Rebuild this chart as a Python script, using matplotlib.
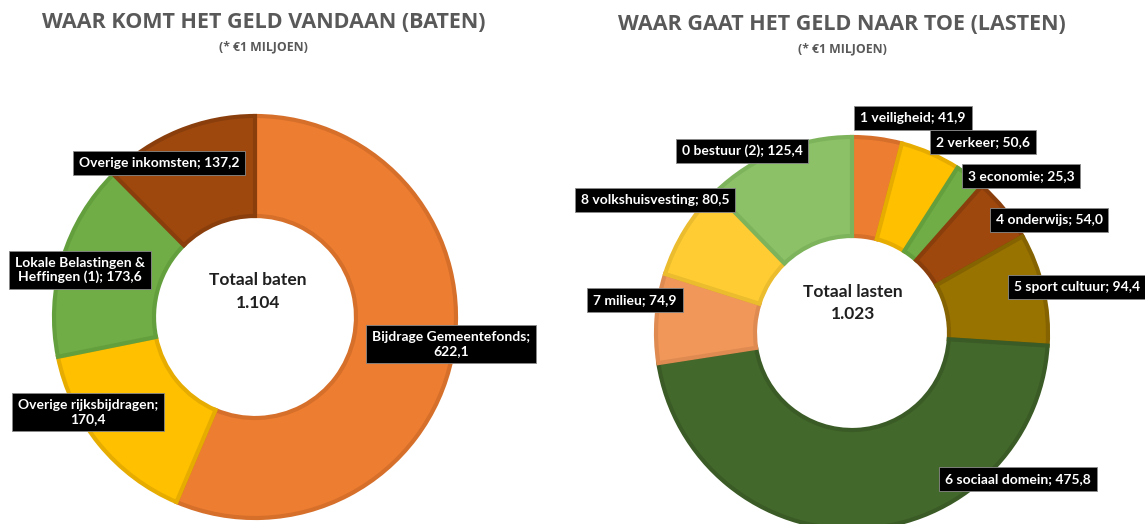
import matplotlib
matplotlib.use("Agg")
import matplotlib.pyplot as plt

# baten (income), clockwise from the top
baten_labels = ["Bijdrage Gemeentefonds;\n622,1", "Overige rijksbijdragen;\n170,4",
                "Lokale Belastingen &\nHeffingen (1); 173,6", "Overige inkomsten; 137,2"]
baten_values = [622.1, 170.4, 173.6, 137.2]
baten_totaal = "1.104"

# lasten (expenses), clockwise from the top
lasten_labels = ["1 veiligheid; 41,9", "2 verkeer; 50,6", "3 economie; 25,3",
                 "4 onderwijs; 54,0", "5 sport cultuur; 94,4", "6 sociaal domein; 475,8",
                 "7 milieu; 74,9", "8 volkshuisvesting; 80,5", "0 bestuur (2); 125,4"]
lasten_values = [41.9, 50.6, 25.3, 54.0, 94.4, 475.8, 74.9, 80.5, 125.4]
lasten_totaal = "1.023"

baten_colors = ["#ED7D31", "#FFC000", "#70AD47", "#9E480E"]
baten_edges = ["#D66F2A", "#E6AC00", "#63A03D", "#8A3E0C"]
lasten_colors = ["#ED7D31", "#FFC000", "#70AD47", "#9E480E", "#997300",
                 "#43682B", "#F1975A", "#FFCD33", "#8CC168"]
lasten_edges = ["#D66F2A", "#E6AC00", "#63A03D", "#8A3E0C", "#846300",
                "#3A5B25", "#DE8A50", "#EBBC2D", "#7DB35B"]

# label box centres in pixels (layout)
baten_label_pos = [(451, 344), (88, 412), (80, 270), (159, 163)]
lasten_label_pos = [(913, 118), (983, 142), (1021, 176), (1049, 220), (1077, 287),
                    (1018, 479), (635, 300), (655, 200), (742, 151)]

W, H = 1145, 524
fig = plt.figure(figsize=(W / 100, H / 100), dpi=100)
ax = fig.add_axes([0, 0, 1, 1])


def donut(values, colors, edges, center, R, r):
    wedges, _ = ax.pie(values, colors=colors, startangle=90, counterclock=False,
                       center=center, radius=R, frame=True,
                       wedgeprops=dict(width=R - r, linewidth=3.0))
    for w, e in zip(wedges, edges):
        w.set_edgecolor(e)
    return wedges


donut(baten_values, baten_colors, baten_edges, (255, H - 317), 201, 101)
donut(lasten_values, lasten_colors, lasten_edges, (852, H - 333), 196, 97)
ax.set_xlim(0, W)
ax.set_ylim(0, H)
ax.set_aspect("equal")
ax.axis("off")

lab_font = dict(family="Lato", weight="bold", size=10, color="white")
box = dict(boxstyle="square,pad=0.42", fc="black", ec="#8a8a8a", lw=0.6)
for txt, (x, y) in zip(baten_labels, baten_label_pos):
    ax.text(x, H - y, txt, ha="center", va="center", ma="center", bbox=box,
            linespacing=1.2, **lab_font)
for txt, (x, y) in zip(lasten_labels, lasten_label_pos):
    ax.text(x, H - y, txt, ha="center", va="center", bbox=box, **lab_font)

tot_font = dict(family="Lato", weight="bold", size=12.5, color="#1f1f1f", ha="center", va="center")
ax.text(258, H - 280, "Totaal baten", **tot_font)
ax.text(258, H - 303, baten_totaal, **tot_font)
ax.text(853, H - 292, "Totaal lasten", **tot_font)
ax.text(853, H - 314, lasten_totaal, **tot_font)

title_font = dict(family="Open Sans", weight="bold", color="#595959", ha="center", va="center")
ax.text(264, H - 23, "WAAR KOMT HET GELD VANDAAN (BATEN)", size=15.5, **title_font)
ax.text(263, H - 47, "(* €1 MILJOEN)", size=8.8, **title_font)
ax.text(842, H - 25, "WAAR GAAT HET GELD NAAR TOE (LASTEN)", size=15.5, **title_font)
ax.text(842, H - 49, "(* €1 MILJOEN)", size=8.8, **title_font)

fig.savefig("out.png", dpi=100)
